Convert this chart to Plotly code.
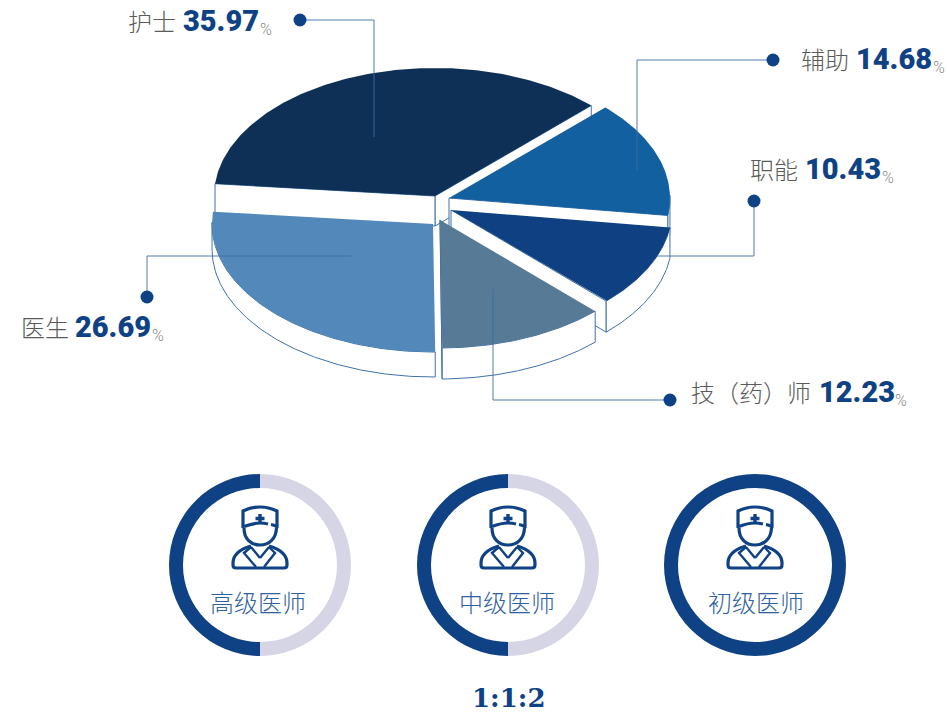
import numpy as np
import plotly.graph_objects as go

# ---- data ----
categories = ["护士", "医生", "技（药）师", "职能", "辅助"]
shares = [35.97, 26.69, 12.23, 10.43, 14.68]
title_levels = ["高级医师", "中级医师", "初级医师"]
level_dark = [50, 50, 100]
level_light = [50, 50, 0]
ratio_text = "1:1:2"

# ---- style / layout ----
W, H = 947, 716
colors = ["#0E3056", "#5289BA", "#577B96", "#0E4082", "#1360A0"]
apex = [(435, 196), (433, 224), (440, 220), (451, 210), (449, 198)]
depth = [30, 25, 31, 31, 30]
RX, RY = 221, 128
START = 45.0
EDGE = "#3F72A8"
NAVY = "#0F4285"
draw_order = [0, 4, 3, 1, 2]

starts = START + np.concatenate([[0], np.cumsum(shares)[:-1]]) * 3.6
sweeps = np.array(shares) * 3.6

fig = go.Figure()


def poly(xs, ys, fill, line=None, width=1):
    fig.add_trace(go.Scatter(
        x=list(xs), y=list(ys), mode="lines", fill="toself", fillcolor=fill,
        line=dict(color=line or fill, width=width if line else 0),
        hoverinfo="skip", showlegend=False))


for i in draw_order:
    cx, cy = apex[i]
    d = depth[i]
    t = np.radians(np.linspace(starts[i], starts[i] + sweeps[i], 160))
    ax = cx + RX * np.cos(t)
    ay = cy - RY * np.sin(t)
    # radial faces, only those turned towards the viewer
    if np.cos(t[0]) > 0:
        poly([cx, ax[0], ax[0], cx, cx], [cy, ay[0], ay[0] + d, cy + d, cy], "#FFFFFF", EDGE)
    if np.cos(t[-1]) < 0:
        poly([cx, ax[-1], ax[-1], cx, cx], [cy, ay[-1], ay[-1] + d, cy + d, cy], "#FFFFFF", EDGE)
    # rim: only the front part of the arc
    front = np.sin(t) <= 0.02
    if front.any():
        fx, fy = ax[front], ay[front]
        poly(np.r_[fx, fx[::-1], fx[0]], np.r_[fy, fy[::-1] + d, fy[0]], "#FFFFFF", EDGE)
    # top
    poly(np.r_[cx, ax, cx], np.r_[cy, ay, cy], colors[i])

# leader lines and dots
leaders = [
    ([300, 374, 374], [20, 20, 137]),
    ([147, 147, 351], [297, 256, 256]),
    ([670, 493, 493], [400, 400, 289]),
    ([754, 754, 657], [201, 256, 256]),
    ([773, 637, 637], [60, 60, 170]),
]
for lx, ly in leaders:
    fig.add_trace(go.Scatter(x=lx, y=ly, mode="lines", line=dict(color="#3F6FA6", width=1),
                             opacity=0.9, hoverinfo="skip", showlegend=False))
    fig.add_trace(go.Scatter(x=[lx[0]], y=[ly[0]], mode="markers",
                             marker=dict(color=NAVY, size=13, line=dict(width=0)),
                             hoverinfo="skip", showlegend=False))

# rings
ring_cx = [260, 508, 755]
RING_CY, RING_R = 565, 91
for k in range(3):
    fig.add_trace(go.Pie(
        values=[level_light[k], level_dark[k]],
        marker=dict(colors=["#D5D5E6", NAVY], line=dict(width=0)),
        hole=77 / 91, sort=False, direction="clockwise", rotation=0,
        textinfo="none", hoverinfo="skip", showlegend=False,
        domain=dict(x=[(ring_cx[k] - RING_R) / W, (ring_cx[k] + RING_R) / W],
                    y=[1 - (RING_CY + RING_R) / H, 1 - (RING_CY - RING_R) / H])))

# icon strokes, relative to the ring centre
hat = "M-18,-37 L-18,-54 Q-1,-62 16,-54 L16,-37"
band_l = "M-17,-38.5 Q-8,-42 -1,-42 Q3,-42 7,-41"
band_r = "M10,-40.5 Q13,-40 15.5,-38.5"
face = "M-17,-37 C-17,-26 -10,-20 -1,-20 C8,-20 15,-26 15.5,-37"
body = ("M-10,-19 C-20,-16 -28,-11 -28,-2 L-28,0 Q-28,3 -25,3 L23,3 Q26,3 26,0 L26,-2 "
        "C26,-11 18,-16 8,-19")
lapel_l = "M-10,-18 L-17,-12 L-5,2 M-10,-18 L-1,-7"
lapel_r = "M8,-18 L14,-12 L3,2 M8,-18 L-1,-7"
cross = "M-1,-51 L-1,-42 M-5.5,-46.5 L3.5,-46.5"


def shift(path, dx, dy):
    num, idx, res = "", 0, ""
    for ch in path + " ":
        if ch in "-.0123456789":
            num += ch
        else:
            if num:
                v = float(num) + (dx if idx % 2 == 0 else dy)
                res += f"{v:.1f}"
                idx += 1
                num = ""
            res += ch
    return res.strip()


shapes = []
for c in ring_cx:
    for p, w in [(hat, 3.2), (band_l, 3.2), (band_r, 3.2), (face, 3.2), (body, 3.2),
                 (lapel_l, 2.4), (lapel_r, 2.4), (cross, 3.4)]:
        shapes.append(dict(type="path", path=shift(p, c + 1, RING_CY), xref="x", yref="y",
                           line=dict(color=NAVY, width=w), layer="above"))

# text
CJK = "Noto Sans CJK SC"
NUM = "Roboto"
GREY = "#5A5A5A"
ann = []


def txt(x, y, s, size, color, fam=CJK, weight=None, anchor="left"):
    f = dict(size=size, color=color, family=fam)
    if weight:
        f["weight"] = weight
    ann.append(dict(x=x, y=y, text=s, xref="x", yref="y", xanchor=anchor, yanchor="middle",
                    showarrow=False, font=f, borderpad=0))


label_pos = [(127, 20, 182, 259), (20, 326, 74, 151), (690, 391, 818, 894),
             (749, 168, 804, 881), (800, 58, 855, 932)]
for i, (xl, yl, xn, xp) in enumerate(label_pos):
    txt(xl, yl, categories[i], 24, GREY, weight=300)
    txt(xn, yl + 1, f"{shares[i]:.2f}", 29, NAVY, NUM, 900)
    txt(xp, yl + 9, "%", 16, "#8A8A8A", NUM, 300)

title_x = [258, 507, 755.5]
for k, c in enumerate(title_x):
    txt(c, 601, title_levels[k], 24, "#2F62A0", weight=300, anchor="center")
txt(508.5, 698, ratio_text, 26, NAVY, "DejaVu Serif", 700, "center")

fig.update_layout(
    width=W, height=H, margin=dict(l=0, r=0, t=0, b=0),
    paper_bgcolor="#FFFFFF", plot_bgcolor="#FFFFFF", showlegend=False,
    xaxis=dict(range=[0, W], visible=False, fixedrange=True),
    yaxis=dict(range=[H, 0], visible=False, fixedrange=True),
    shapes=shapes, annotations=ann,
)
fig.write_html("out.html", config=dict(displayModeBar=False),
               post_script="document.body.style.margin='0';document.body.style.overflow='hidden';")
